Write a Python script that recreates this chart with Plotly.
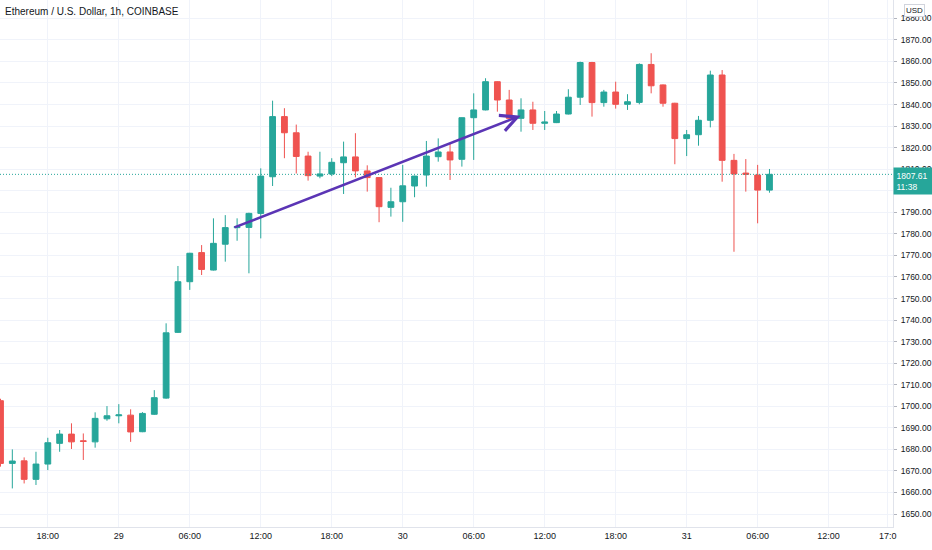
import pandas as pd
import plotly.graph_objects as go

# hourly ETH/USD candles, 28 14:00 -> 31 07:00
start_time = "2023-10-28 14:00"
n_candles = 66
times = pd.date_range(start_time, periods=n_candles, freq="h")

opens = [1702.6, 1673.5, 1674.7, 1666.1, 1673.2, 1682.8, 1687.1, 1684.0, 1683.5, 1694.2,
         1695.6, 1695.9, 1688.2, 1696.3, 1703.8, 1734.3, 1757.8, 1771.3, 1763.2, 1775.2,
         1782.9, 1783.0, 1789.5, 1806.5, 1834.4, 1826.9, 1816.1, 1806.8, 1807.8, 1813.0,
         1815.7, 1809.2, 1806.1, 1792.3, 1794.9, 1802.2, 1807.3, 1815.8, 1818.0, 1814.6,
         1833.9, 1837.5, 1850.6, 1842.1, 1833.6, 1837.5, 1831.3, 1831.6, 1835.6, 1843.4,
         1859.5, 1840.9, 1845.8, 1840.1, 1841.0, 1858.6, 1849.1, 1840.6, 1824.2, 1826.0,
         1832.7, 1853.7, 1814.1, 1808.2, 1807.3, 1800.3]
highs = [1703.5, 1680.0, 1676.3, 1678.9, 1685.4, 1689.0, 1692.1, 1687.4, 1697.2, 1700.1,
         1701.0, 1698.6, 1697.3, 1707.5, 1738.5, 1765.1, 1771.2, 1774.8, 1787.2, 1788.7,
         1787.2, 1789.8, 1810.4, 1841.8, 1838.3, 1830.7, 1818.1, 1818.1, 1815.1, 1822.8,
         1826.7, 1811.8, 1806.3, 1801.4, 1812.0, 1807.0, 1823.1, 1824.3, 1821.7, 1834.0,
         1845.2, 1852.2, 1850.8, 1846.8, 1842.9, 1841.3, 1837.0, 1837.0, 1847.1, 1859.9,
         1859.8, 1846.8, 1850.6, 1844.8, 1859.1, 1863.8, 1849.3, 1840.8, 1828.2, 1834.7,
         1855.7, 1856.0, 1817.1, 1814.7, 1812.0, 1810.1]
lows = [1672.0, 1661.9, 1664.2, 1663.5, 1670.4, 1678.9, 1680.2, 1675.1, 1680.8, 1693.3,
        1692.1, 1683.5, 1688.0, 1696.0, 1703.5, 1734.0, 1754.0, 1760.9, 1763.0, 1767.1,
        1776.8, 1761.7, 1777.9, 1802.2, 1815.1, 1808.0, 1804.7, 1805.8, 1806.8, 1798.5,
        1806.2, 1799.6, 1785.4, 1788.0, 1785.6, 1797.0, 1801.9, 1813.5, 1805.0, 1811.2,
        1814.3, 1837.3, 1836.7, 1833.4, 1827.4, 1828.2, 1828.2, 1831.4, 1835.4, 1839.8,
        1834.4, 1839.0, 1838.1, 1837.5, 1840.1, 1845.2, 1839.0, 1812.3, 1816.1, 1820.9,
        1829.4, 1804.2, 1771.7, 1799.6, 1784.9, 1799.1]
closes = [1673.5, 1674.6, 1666.1, 1673.2, 1683.1, 1687.1, 1683.5, 1683.7, 1694.4, 1695.6,
          1696.0, 1688.1, 1696.7, 1704.0, 1734.1, 1757.8, 1771.0, 1763.5, 1775.6, 1782.9,
          1783.4, 1789.5, 1806.8, 1834.4, 1826.9, 1815.9, 1807.0, 1807.8, 1813.2, 1815.7,
          1809.2, 1806.1, 1792.6, 1794.9, 1802.3, 1806.8, 1816.1, 1818.0, 1814.3, 1833.9,
          1837.5, 1850.6, 1842.1, 1833.6, 1837.5, 1831.3, 1831.9, 1835.6, 1843.4, 1859.5,
          1840.9, 1845.8, 1840.1, 1841.3, 1858.6, 1848.7, 1840.6, 1824.2, 1826.0, 1832.7,
          1853.7, 1814.1, 1807.8, 1807.6, 1800.3, 1807.61]

last_price = 1807.61
countdown = "11:38"

# trend arrow drawn on the chart
arrow_start = ("2023-10-29 09:39", 1782.7)
arrow_end = ("2023-10-30 09:58", 1834.8)

tick_times = ["2023-10-28 18:00", "2023-10-29 00:00", "2023-10-29 06:00", "2023-10-29 12:00",
              "2023-10-29 18:00", "2023-10-30 00:00", "2023-10-30 06:00", "2023-10-30 12:00",
              "2023-10-30 18:00", "2023-10-31 00:00", "2023-10-31 06:00", "2023-10-31 12:00",
              "2023-10-31 17:00"]
tick_text = ["18:00", "29", "06:00", "12:00", "18:00", "30", "06:00", "12:00",
             "18:00", "31", "06:00", "12:00", "17:0"]

UP = "#26a69a"
DOWN = "#ef5350"
GRID = "#f0f3fa"
TXT = "#131722"
FONT = "Liberation Sans, Arial, sans-serif"

fig = go.Figure()
fig.add_trace(go.Candlestick(
    x=times, open=opens, high=highs, low=lows, close=closes,
    increasing=dict(line=dict(color=UP, width=1), fillcolor=UP),
    decreasing=dict(line=dict(color=DOWN, width=1), fillcolor=DOWN),
    whiskerwidth=0, showlegend=False, name="ETHUSD"))

# last price dotted line
fig.add_shape(type="line", xref="paper", x0=0, x1=1, yref="y", y0=last_price, y1=last_price,
              line=dict(color=UP, width=1, dash="1px,2px"))

fig.add_annotation(x=arrow_end[0], y=arrow_end[1], ax=arrow_start[0], ay=arrow_start[1],
                   xref="x", yref="y", axref="x", ayref="y", text="", showarrow=True,
                   arrowhead=5, arrowsize=1.3, arrowwidth=2.5, arrowcolor="#5b35b5")

fig.add_annotation(xref="paper", yref="paper", x=0, y=1, xanchor="left", yanchor="top",
                   xshift=3, yshift=-4, showarrow=False,
                   text="Ethereum / U.S. Dollar, 1h, COINBASE",
                   font=dict(family=FONT, size=10, color=TXT))

fig.add_annotation(xref="paper", yref="paper", x=1, y=1, xanchor="left", yanchor="top",
                   xshift=11, yshift=-4, showarrow=False, text="USD",
                   font=dict(family=FONT, size=8, color=TXT),
                   bgcolor="white", bordercolor="#d1d4dc", borderwidth=1, borderpad=1)

fig.add_annotation(xref="paper", yref="y", x=1, y=last_price, xanchor="left", yanchor="top",
                   yshift=7, showarrow=False, align="left", width=36,
                   text=f"{last_price:.2f}<br>{countdown}",
                   font=dict(family=FONT, size=8.5, color="white"),
                   bgcolor=UP, borderpad=2.5)

fig.update_xaxes(type="date", range=["2023-10-28 13:57:30", "2023-10-31 17:26:30"],
                 rangeslider_visible=False, tickmode="array", tickvals=tick_times,
                 ticktext=tick_text, showgrid=True, gridcolor=GRID, gridwidth=1,
                 showline=True, linecolor="#e0e3eb", ticks="",
                 tickfont=dict(family=FONT, size=9, color=TXT), zeroline=False)
fig.update_yaxes(side="right", range=[1644.0, 1888.5], tick0=1650, dtick=10,
                 tickformat=".2f", showgrid=True, gridcolor=GRID, gridwidth=1,
                 showline=True, linecolor="#e0e3eb", ticks="outside", ticklen=3,
                 tickcolor="#b2b5be", tickfont=dict(family=FONT, size=8.5, color=TXT),
                 ticklabelstandoff=2, zeroline=False)

fig.update_layout(width=932, height=550, margin=dict(l=0, r=39, t=0, b=23),
                  paper_bgcolor="white", plot_bgcolor="white", showlegend=False,
                  hovermode=False)

# drop the browser's default 8px body margin so the chart sits at the window corner
fig.write_html("out.html", config={"displayModeBar": False},
               post_script="document.body.style.margin = '0';")
